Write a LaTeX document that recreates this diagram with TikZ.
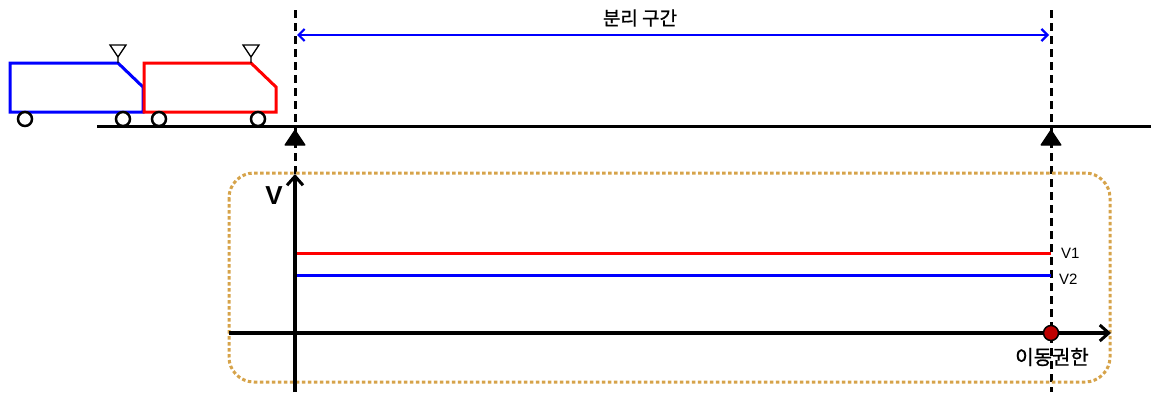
\documentclass[tikz,border=0pt]{standalone}
\usepackage{fontspec}
\setmainfont{Liberation Sans}
\newfontfamily\kr[FakeBold=1]{Noto Sans CJK KR}
\usetikzlibrary{arrows.meta}
\definecolor{boxgold}{RGB}{214,163,74}
\definecolor{dotred}{RGB}{190,0,0}
\tikzset{
  bound/.style={line width=3pt, dash pattern=on 8pt off 5pt},
  railline/.style={line width=3pt},
  carbody/.style={line width=3pt, line join=miter},
  wheel/.style={draw, line width=2.5pt, fill=white, circle, minimum size=14pt, inner sep=0pt},
  panto/.style={line width=1.3pt},
  post/.style={fill=black, draw=black, line width=1pt, line join=round},
  axisline/.style={line width=4pt, -{Straight Barb[length=9pt,width=16pt,line width=3pt]}},
  level/.style={line width=3pt},
  lbl/.style={inner sep=0pt, font=\fontsize{15}{15}\selectfont}
}
\begin{document}
\begin{tikzpicture}[x=1pt,y=-1pt]
\useasboundingbox (0,0) rectangle (1151,394);

% section boundaries
\coordinate (b1top) at (295,10);
\coordinate (b1bot) at (295,392);
\coordinate (b2top) at (1051,10);
\coordinate (b2bot) at (1051,392);
\draw[bound] (b1top) -- (b1bot);
\draw[bound] (b2top) -- (b2bot);

% separation span
\coordinate (s1) at (297,35);
\coordinate (s2) at (1049,35);
\draw[blue, line width=2.2pt, {Straight Barb[length=6pt,width=12pt]}-{Straight Barb[length=6pt,width=12pt]}] (s1) -- (s2);
\node[font=\kr\fontsize{19}{19}\selectfont, inner sep=0pt] (span) at (640,18) {분리 구간};

% rail
\coordinate (r1) at (97,126);
\coordinate (r2) at (1151,126);
\draw[railline] (r1) -- (r2);
\draw[post] (295,130) -- (285,145) -- (305,145) -- cycle;
\draw[post] (1051,130) -- (1041,145) -- (1061,145) -- cycle;

% blue train
\draw[carbody, blue] (10,63) -- (118,63) -- (143,87) -- (143,112) -- (10,112) -- cycle;
\draw[panto] (118,63) -- (118,57) -- (110,45) -- (126,45) -- (118,57);
% red train
\draw[carbody, red] (144,63) -- (251,63) -- (276,87) -- (276,112) -- (144,112) -- cycle;
\draw[panto] (251,63) -- (251,57) -- (243,45) -- (259,45) -- (251,57);
% wheels
\node[wheel] (w1) at (25,119) {};
\node[wheel] (w2) at (123,119) {};
\node[wheel] (w3) at (159,119) {};
\node[wheel] (w4) at (258,119) {};

% speed diagram frame
\draw[boxgold, line width=3pt, dash pattern=on 3.5pt off 2.5pt, rounded corners=25pt]
  (229,173) rectangle (1110,382);

% axes
\coordinate (v0) at (295,392);
\coordinate (vt) at (295,174);
\draw[axisline] (v0) -- (vt);
\node[inner sep=0pt, font=\bfseries\fontsize{26}{26}\selectfont] (vlab) at (274,196) {V};
\coordinate (h0) at (229,333);
\coordinate (ht) at (1111,333);
\draw[axisline] (h0) -- (ht);

% speed levels
\coordinate (l1a) at (297,253);
\coordinate (l1b) at (1051,253);
\coordinate (l2a) at (297,275);
\coordinate (l2b) at (1051,275);
\draw[level, red] (l1a) -- (l1b);
\draw[level, blue] (l2a) -- (l2b);
\node[lbl, anchor=west] (v1) at (1061,253) {V1};
\node[lbl, anchor=west] (v2) at (1059,279) {V2};

% movement authority
\node[circle, fill=dotred, draw=black, line width=1.5pt, minimum size=15pt, inner sep=0pt] (ma) at (1051,333) {};
\node[font=\kr\fontsize{20}{20}\selectfont, inner sep=0pt] (malab) at (1052,357) {이동권한};
\end{tikzpicture}
\end{document}
